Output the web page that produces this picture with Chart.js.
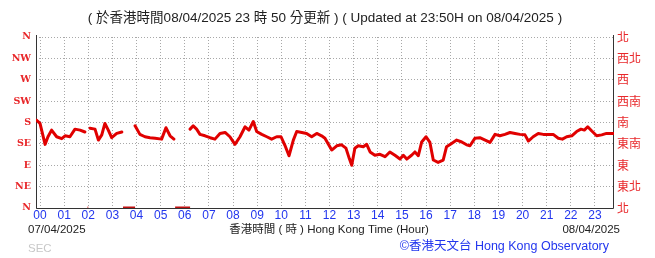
<!DOCTYPE html>
<html>
<head>
<meta charset="utf-8">
<script src="https://cdn.jsdelivr.net/npm/chart.js@4.4.1/dist/chart.umd.min.js"></script>
<style>
  html, body { margin: 0; padding: 0; background: #fff; }
  #wrap { width: 655px; height: 258px; position: relative; }
</style>
</head>
<body>
<div id="wrap"><canvas id="chart-wind"></canvas></div>
<script>
// ===== Wind direction, last 24 h =====
const hours = [
  -0.15, 0.0, 0.21, 0.33, 0.48, 0.69, 0.9, 1.04, 1.24, 1.45, 1.66, 1.86, 1.93,
  2.07, 2.28, 2.42, 2.56, 2.69, 2.83, 2.97, 3.18, 3.39, 3.6,
  3.94, 4.14, 4.35, 4.56, 4.77, 5.04, 5.22, 5.39, 5.55, 5.9,
  6.22, 6.35, 6.49, 6.63, 6.84, 7.05, 7.25, 7.46, 7.67, 7.87, 8.08, 8.29, 8.5, 8.66, 8.84, 8.98,
  9.19, 9.4, 9.6, 9.81, 9.99, 10.15, 10.32, 10.5, 10.64, 10.85, 11.05, 11.26, 11.47, 11.67,
  11.81, 12.09, 12.3, 12.5, 12.68, 12.82, 12.92, 13.05, 13.19, 13.4, 13.54, 13.68, 13.88,
  14.09, 14.3, 14.5, 14.71, 14.92, 15.06, 15.2, 15.4, 15.54, 15.68, 15.82, 16.0, 16.16,
  16.3, 16.5, 16.71, 16.85, 17.06, 17.27, 17.48, 17.68, 17.82, 18.03, 18.23, 18.45, 18.65,
  18.86, 19.06, 19.27, 19.48, 19.69, 19.89, 20.1, 20.24, 20.44, 20.65, 20.86, 21.07, 21.27,
  21.48, 21.65, 21.83, 22.04, 22.24, 22.42, 22.56, 22.7, 22.87, 23.07, 23.28, 23.48, 23.69, 23.79
];
const directions = [
  185, 178, 134, 150, 164, 150, 146, 152, 150, 166, 164, 160, null,
  168, 166, 143, 154, 178, 164, 148, 157, 160, null,
  173, 155, 150, 148, 147, 145, 169, 152, 145, null,
  166, 173, 166, 155, 152, 148, 145, 157, 159, 150, 134, 150, 171, 164, 182, 161,
  155, 150, 145, 150, 150, 132, 110, 143, 161, 159, 157, 150, 157, 152,
  147, 122, 131, 133, 126, 104, 90, 126, 131, 129, 134, 118, 111,
  113, 108, 118, 111, 103, 111, 103, 111, 118, 110, 139, 150, 138,
  101, 96, 101, 129, 136, 143, 139, 133, 131, 147, 148, 143, 138,
  155, 152, 155, 159, 157, 155, 154, 141, 150, 157, 155, 155, 155,
  147, 145, 150, 152, 161, 166, 164, 171, 162, 152, 154, 157, 157, 157
];
// calm / variable periods drawn on the bottom axis
const calmHours = [1.97, 2.0, null, 3.44, 3.94, null, 5.6, 6.22];

const dirLabelsEn = ['N', 'NE', 'E', 'SE', 'S', 'SW', 'W', 'NW', 'N'];
const dirLabelsZh = ['北', '東北', '東', '東南', '南', '西南', '西', '西北', '北'];
const hourTicks = ['00','01','02','03','04','05','06','07','08','09','10','11',
                   '12','13','14','15','16','17','18','19','20','21','22','23'];

const RED = '#e00000';
const LABEL_RED = '#e8272a';
const BLUE = '#2236ee';

const windPoints = hours.map((h, i) => ({ x: h, y: directions[i] }));
const calmPoints = calmHours.map(h => ({ x: h, y: h === null ? null : 0 }));

const textPlugin = {
  id: 'hkoText',
  beforeDatasetsDraw(chart) {
    // solid frame on left / bottom / right
    const { ctx: c, chartArea: a } = chart;
    c.save();
    c.strokeStyle = '#333';
    c.lineWidth = 1;
    c.setLineDash([]);
    c.beginPath();
    c.moveTo(a.left + 0.5, a.top - 2);
    c.lineTo(a.left + 0.5, a.bottom + 0.5);
    c.lineTo(a.right - 0.5, a.bottom + 0.5);
    c.lineTo(a.right - 0.5, a.top - 2);
    c.stroke();
    c.restore();
  },
  afterDraw(chart) {
    const c = chart.ctx;
    c.save();
    c.textBaseline = 'middle';
    c.fillStyle = '#222';
    c.font = '13.5px "Liberation Sans", "Noto Sans CJK TC", sans-serif';
    c.textAlign = 'center';
    c.fillText('( 於香港時間08/04/2025 23 時 50 分更新 ) ( Updated at 23:50H on 08/04/2025 )', 325, 18);

    c.font = '11.5px "Liberation Sans", "Noto Sans CJK TC", sans-serif';
    c.textAlign = 'left';
    c.fillText('07/04/2025', 28, 230);
    c.textAlign = 'center';
    c.fillText('香港時間 ( 時 ) Hong Kong Time (Hour)', 329, 230);
    c.textAlign = 'right';
    c.fillText('08/04/2025', 620, 230);

    c.fillStyle = '#c8c8c8';
    c.textAlign = 'left';
    c.fillText('SEC', 28, 249);
    c.fillStyle = BLUE;
    c.font = '12.5px "Liberation Sans", "Noto Sans CJK TC", sans-serif';
    c.textAlign = 'right';
    c.fillText('©香港天文台 Hong Kong Observatory', 609, 247);
    c.restore();
  }
};

new Chart(document.getElementById('chart-wind'), {
  type: 'line',
  data: {
    datasets: [{
      data: windPoints,
      borderColor: RED,
      backgroundColor: RED,
      borderWidth: 3,
      borderJoinStyle: 'round',
      borderCapStyle: 'round',
      pointRadius: 0,
      tension: 0,
      spanGaps: false,
    }, {
      data: calmPoints,
      borderColor: '#c01010',
      backgroundColor: '#c01010',
      borderWidth: 3,
      pointRadius: 0,
      spanGaps: false,
    }]
  },
  options: {
    responsive: true,
    maintainAspectRatio: false,
    animation: false,
    layout: { padding: { top: 37, left: 0, right: 0, bottom: 0 } },
    plugins: { legend: { display: false }, tooltip: { enabled: false } },
    scales: {
      x: {
        type: 'linear',
        min: -0.166,
        max: 23.79,
        afterBuildTicks: (s) => { s.ticks = hourTicks.map((_, i) => ({ value: i })); },
        afterFit: (s) => { s.height = 50; },
        ticks: {
          color: BLUE,
          padding: 0,
          maxRotation: 0,
          autoSkip: false,
          font: { family: '"Liberation Sans", sans-serif', size: 12 },
          callback: (v) => hourTicks[v],
        },
        grid: { color: '#a8a8a8', drawTicks: false, lineWidth: 1 },
        border: { display: false, dash: [1, 2] },
      },
      y: {
        min: 0,
        max: 360,
        afterBuildTicks: (s) => { s.ticks = dirLabelsEn.map((_, i) => ({ value: i * 45 })); },
        afterFit: (s) => { s.width = 36; },
        ticks: {
          color: LABEL_RED,
          padding: 5,
          font: { family: '"DejaVu Serif", serif', size: 9.5, weight: 'bold' },
          callback: (v) => dirLabelsEn[v / 45],
        },
        grid: { color: '#a8a8a8', drawTicks: false, lineWidth: 1 },
        border: { display: false, dash: [1, 2] },
      },
      y2: {
        position: 'right',
        min: 0,
        max: 360,
        afterBuildTicks: (s) => { s.ticks = dirLabelsZh.map((_, i) => ({ value: i * 45 })); },
        afterFit: (s) => { s.width = 41; },
        ticks: {
          color: LABEL_RED,
          padding: 3,
          font: { family: '"Noto Sans CJK TC", sans-serif', size: 12 },
          callback: (v) => dirLabelsZh[v / 45],
        },
        grid: { display: false, drawTicks: false },
        border: { display: false },
      }
    }
  },
  plugins: [textPlugin]
});
</script>
</body>
</html>
